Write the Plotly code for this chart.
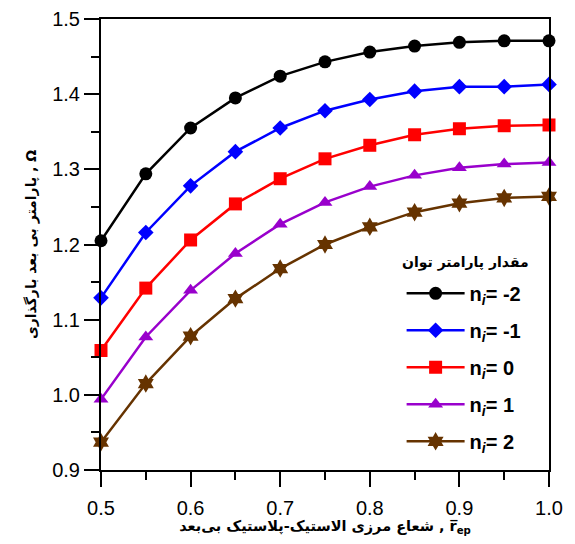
import plotly.graph_objects as go

x_vals = [0.5, 0.55, 0.6, 0.65, 0.7, 0.75, 0.8, 0.85, 0.9, 0.95, 1.0]

omega_n_m2 = [1.205, 1.294, 1.355, 1.395, 1.424, 1.443, 1.456, 1.464, 1.469, 1.471, 1.471]
omega_n_m1 = [1.129, 1.216, 1.278, 1.3235, 1.355, 1.378, 1.393, 1.404, 1.410, 1.410, 1.413]
omega_n_0 = [1.059, 1.142, 1.206, 1.254, 1.2875, 1.314, 1.332, 1.346, 1.354, 1.358, 1.359]
omega_n_1 = [0.994, 1.077, 1.139, 1.188, 1.227, 1.256, 1.277, 1.292, 1.302, 1.307, 1.309]
omega_n_2 = [0.937, 1.015, 1.078, 1.128, 1.168, 1.200, 1.2235, 1.243, 1.255, 1.262, 1.264]

series_labels = ["n<sub><i>i</i></sub>= -2", "n<sub><i>i</i></sub>= -1", "n<sub><i>i</i></sub>= 0",
                 "n<sub><i>i</i></sub>= 1", "n<sub><i>i</i></sub>= 2"]
series_values = [omega_n_m2, omega_n_m1, omega_n_0, omega_n_1, omega_n_2]
colors = ["#000000", "#0000FF", "#FF0000", "#9900CC", "#663300"]
symbols = ["circle", "diamond", "square", "triangle-up", "hexagram"]
sizes = [13, 12, 13, 13, 14]

x_title = "شعاع مرزی الاستیک-پلاستیک بی‌بعد , r\u0305<sub>ep</sub>"
y_title = "پارامتر بی بعد بارگذاری , Ω"
legend_title = "مقدار پارامتر توان"

fig = go.Figure()
for i, (lab, vals) in enumerate(zip(series_labels, series_values)):
    fig.add_trace(go.Scatter(
        x=x_vals, y=vals, mode="lines+markers", name="<b>" + lab + "</b>",
        line=dict(color=colors[i], width=2.5),
        marker=dict(symbol=symbols[i], size=sizes[i], color=colors[i]),
        cliponaxis=False, legendgroup=str(i),
    ))

axis_font = dict(family="Liberation Sans, Arial", size=20, color="black")
# The page body adds an 8px margin, so the figure is sized to fit inside it.
fig.update_layout(
    width=559, height=528,
    margin=dict(l=93, r=18, t=11, b=66, autoexpand=False),
    plot_bgcolor="white", paper_bgcolor="white",
    showlegend=True,
    legend=dict(
        x=0.671, y=0.435, xanchor="left", yanchor="top",
        bgcolor="rgba(0,0,0,0)",
        font=dict(family="Liberation Sans, Arial", size=20, color="black"),
        tracegroupgap=8, itemwidth=58,
    ),
    annotations=[dict(
        text="<b>" + legend_title + "</b>", xref="paper", yref="paper",
        x=0.8125, y=0.459, xanchor="center", yanchor="middle", showarrow=False,
        font=dict(family="DejaVu Sans", size=14, color="black"),
    )],
    xaxis=dict(
        range=[0.5, 1.0], tick0=0.5, dtick=0.1, tickformat=".1f",
        ticks="outside", ticklen=15, tickwidth=2, tickcolor="#000000",
        ticklabelstandoff=4,
        minor=dict(tick0=0.5, dtick=0.05, ticks="outside", ticklen=8, tickwidth=2, tickcolor="#000000", showgrid=False),
        showline=True, linewidth=2, linecolor="black", mirror=True,
        showgrid=False, zeroline=False, tickfont=axis_font, automargin=False,
        title=dict(text="<b>" + x_title + "</b>", font=dict(family="DejaVu Sans", size=14.5, color="black"), standoff=11),
    ),
    yaxis=dict(
        range=[0.9, 1.5], tick0=0.9, dtick=0.1, tickformat=".1f",
        ticks="outside", ticklen=15, tickwidth=2, tickcolor="#000000",
        minor=dict(tick0=0.9, dtick=0.05, ticks="outside", ticklen=8, tickwidth=2, tickcolor="#000000", showgrid=False),
        showline=True, linewidth=2, linecolor="black", mirror=True,
        showgrid=False, zeroline=False, tickfont=axis_font, automargin=False,
        title=dict(text="<b>" + y_title + "</b>", font=dict(family="DejaVu Sans", size=14, color="black"), standoff=12),
    ),
)

fig.write_html("out.html")
